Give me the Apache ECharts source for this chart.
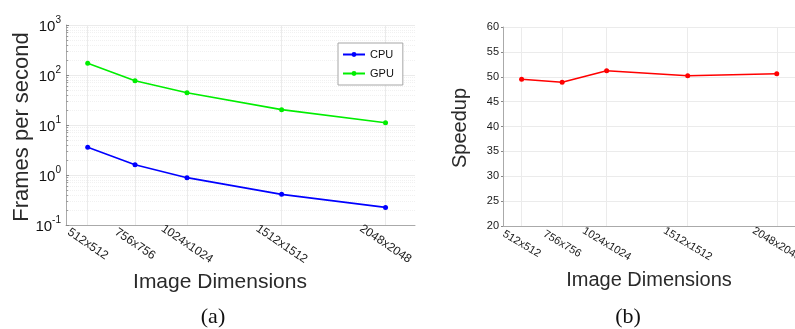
<!DOCTYPE html>
<html lang="en">
  <head>
    <meta charset="UTF-8">
    <title>FPS and speedup</title>
    <script src="https://cdn.jsdelivr.net/npm/echarts@6.0.0/dist/echarts.min.js"></script>
    <style>
      html, body { margin: 0; padding: 0; background: #fff; }
    </style>
  </head>
  <body>
    <div id="main" style="width: 795px;height:329px;"></div>
    <script type="text/javascript">
      // image sizes (NxN)
      const dims = [512, 756, 1024, 1512, 2048];
      const cpuFps = [3.58, 1.61, 0.885, 0.41, 0.225];
      const gpuFps = [171, 77, 44.3, 20.3, 11.1];
      const speedup = [49.5, 48.9, 51.2, 50.2, 50.6];
      // decades shown on the log axis, and the minor steps inside each one
      const fpsDecades = [0.1, 1, 10, 100];
      const minorSteps = [2, 3, 4, 5, 6, 7, 8, 9];

      const font = "'Liberation Sans', Arial, sans-serif";
      const gridColor = '#ebebeb';
      const axisColor = '#aaaaaa';

      const pairs = (vals) => dims.map((d, i) => [d, vals[i]]);
      const dimLabel = (v) => v + 'x' + v;

      // light gridlines at each image size and at the minor log steps
      const minorVals = [];
      fpsDecades.forEach(d => minorSteps.forEach(m => minorVals.push(+(d * m).toPrecision(3))));

      let myChart = echarts.init(document.getElementById('main'));

      let options = {
        animation: false,
        textStyle: { fontFamily: font },
        grid: [
          { left: 66, top: 25, width: 349, height: 200, outerBoundsMode: 'none', containLabel: false },
          { left: 503, top: 27, width: 299, height: 199, outerBoundsMode: 'none', containLabel: false }
        ],
        legend: {
          data: ['CPU', 'GPU'],
          orient: 'vertical',
          left: 338,
          top: 43,
          padding: [6, 9, 6, 4],
          itemGap: 8,
          itemWidth: 22,
          itemHeight: 6,
          backgroundColor: '#fff',
          borderColor: '#a6a6a6',
          borderWidth: 1,
          textStyle: { fontSize: 11, color: '#111', fontFamily: font }
        },
        xAxis: [
          {
            gridIndex: 0, type: 'value', min: 400, max: 2200,
            axisLine: { lineStyle: { color: axisColor } },
            axisTick: { show: false },
            splitLine: { show: false },
            axisLabel: {
              customValues: dims, formatter: dimLabel, rotate: -34,
              align: 'center', verticalAlign: 'middle', margin: 19,
              fontSize: 12, color: '#1a1a1a'
            }
          },
          {
            gridIndex: 1, type: 'value', min: 400, max: 2200,
            axisLine: { lineStyle: { color: axisColor } },
            axisTick: { show: false },
            splitLine: { show: false },
            axisLabel: {
              customValues: dims, formatter: dimLabel, rotate: -31,
              align: 'center', verticalAlign: 'middle', margin: 18,
              fontSize: 11, color: '#1a1a1a', hideOverlap: false
            }
          }
        ],
        yAxis: [
          {
            gridIndex: 0, type: 'log', logBase: 10, min: 0.1, max: 1000,
            axisLine: { show: true, lineStyle: { color: axisColor } },
            axisTick: { show: true, inside: true, length: 3, lineStyle: { color: '#888' } },
            splitLine: { lineStyle: { color: gridColor } },
            axisLabel: {
              margin: 5,
              formatter: (v) => '{b|10}{s|' + Math.round(Math.log10(v)) + '}',
              rich: {
                b: { fontSize: 15, color: '#111', verticalAlign: 'bottom', fontFamily: font },
                s: { fontSize: 10, color: '#111', verticalAlign: 'bottom', padding: [0, 0, 9, 0], fontFamily: font }
              }
            }
          },
          {
            gridIndex: 1, type: 'value', min: 20, max: 60, interval: 5,
            axisLine: { show: true, lineStyle: { color: axisColor } },
            axisTick: { show: true, length: 2, lineStyle: { color: '#888' } },
            splitLine: { lineStyle: { color: gridColor } },
            axisLabel: { margin: 4, fontSize: 11, color: '#1a1a1a' }
          }
        ],
        graphic: [
          { type: 'text', x: 22, y: 127, rotation: Math.PI / 2,
            style: { text: 'Frames per second', font: '22px ' + font, fill: '#2a2a2a', align: 'center', verticalAlign: 'middle' } },
          { type: 'text', x: 220, y: 282,
            style: { text: 'Image Dimensions', font: '21px ' + font, fill: '#2a2a2a', align: 'center', verticalAlign: 'middle' } },
          { type: 'text', x: 213, y: 317,
            style: { text: '(a)', font: '22px "Liberation Serif", serif', fill: '#111', align: 'center', verticalAlign: 'middle' } },
          { type: 'text', x: 460, y: 128, rotation: Math.PI / 2,
            style: { text: 'Speedup', font: '20px ' + font, fill: '#2a2a2a', align: 'center', verticalAlign: 'middle' } },
          { type: 'text', x: 649, y: 280,
            style: { text: 'Image Dimensions', font: '20px ' + font, fill: '#2a2a2a', align: 'center', verticalAlign: 'middle' } },
          { type: 'text', x: 628, y: 317,
            style: { text: '(b)', font: '22px "Liberation Serif", serif', fill: '#111', align: 'center', verticalAlign: 'middle' } }
        ],
        series: [
          {
            name: 'grid-a', type: 'line', xAxisIndex: 0, yAxisIndex: 0, data: [], z: 1,
            markLine: {
              silent: true, symbol: ['none', 'none'], label: { show: false }, z: 1,
              lineStyle: { color: gridColor, type: 'solid', width: 1 },
              data: dims.map(d => ({ xAxis: d }))
                .concat(minorVals.map(v => ({ yAxis: v, lineStyle: { color: '#f1f1f1', type: 'dotted' } })))
                .concat(minorVals.map(v => [
                  { coord: [400, v], lineStyle: { color: '#9a9a9a', type: 'solid' } },
                  { coord: [411, v] }
                ]))
            }
          },
          {
            name: 'grid-b', type: 'line', xAxisIndex: 1, yAxisIndex: 1, data: [], z: 1,
            markLine: {
              silent: true, symbol: ['none', 'none'], label: { show: false }, z: 1,
              lineStyle: { color: gridColor, type: 'solid', width: 1 },
              data: dims.map(d => ({ xAxis: d }))
            }
          },
          {
            name: 'CPU', type: 'line', xAxisIndex: 0, yAxisIndex: 0, data: pairs(cpuFps),
            color: '#0000ff', lineStyle: { width: 1.6 }, symbol: 'circle', symbolSize: 5, z: 3
          },
          {
            name: 'GPU', type: 'line', xAxisIndex: 0, yAxisIndex: 0, data: pairs(gpuFps),
            color: '#00ee00', lineStyle: { width: 1.6 }, symbol: 'circle', symbolSize: 5, z: 3
          },
          {
            name: 'Speedup', type: 'line', xAxisIndex: 1, yAxisIndex: 1, data: pairs(speedup),
            color: '#ff0000', lineStyle: { width: 1.6 }, symbol: 'circle', symbolSize: 5, z: 3
          }
        ]
      };

      myChart.setOption(options);
    </script>
  </body>
</html>
